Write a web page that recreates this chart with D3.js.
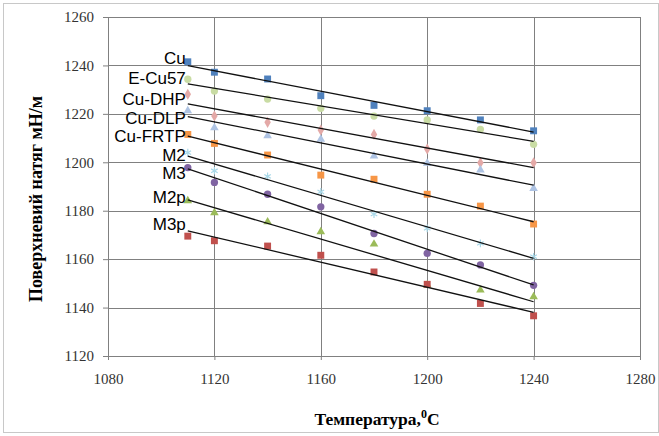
<!DOCTYPE html>
<meta charset="utf-8">
<script src="https://d3js.org/d3.v7.min.js"></script>
<style>
  body { margin: 0; background: #fff; }
</style>
<div id="chart"></div>
<script>
// chart values
var temps = [1110, 1120, 1140, 1160, 1180, 1200, 1220, 1240];
var seriesNames = ["Cu", "E-Cu57", "Cu-DHP", "Cu-DLP", "Cu-FRTP", "M2", "M3", "M2p", "M3p"];
var cu     = [1241.5, 1237.2, 1234.4, 1227.5, 1223.5, 1221.3, 1217.5, 1213.0];
var eCu57  = [1234.3, 1229.4, 1226.1, 1222.3, 1219.1, 1217.5, 1213.6, 1207.4];
var cuDHP  = [1228.1, 1219.1, 1216.5, 1213.3, 1211.5, 1205.5, 1199.8, 1199.8];
var cuDLP  = [1221.3, 1214.3, 1211.0, 1209.5, 1202.6, 1199.6, 1196.8, 1189.2];
var cuFRTP = [1211.5, 1207.8, 1203.0, 1194.7, 1193.0, 1186.8, 1181.9, 1174.5];
var m2     = [1204.0, 1196.5, 1194.2, 1187.8, 1178.6, 1172.7, 1166.5, 1161.0];
var m3     = [1197.8, 1191.7, 1186.8, 1181.6, 1170.6, 1162.4, 1157.6, 1149.2];
var m2p    = [1184.1, 1179.2, 1175.4, 1171.3, 1166.2, 1149.3, 1147.2, 1144.5];
var m3p    = [1169.5, 1167.6, 1165.4, 1161.6, 1154.7, 1149.6, 1141.7, 1136.6];
var xTicks = [1080, 1120, 1160, 1200, 1240, 1280];
var yTicks = [1120, 1140, 1160, 1180, 1200, 1220, 1240, 1260];

var allValues = [cu, eCu57, cuDHP, cuDLP, cuFRTP, m2, m3, m2p, m3p];

// marker styles per series
var markerShape = [d3.symbolSquare, d3.symbolCircle, d3.symbolDiamond, d3.symbolTriangle,
                   d3.symbolSquare, d3.symbolAsterisk, d3.symbolCircle, d3.symbolTriangle, d3.symbolSquare];
var markerSize = [48, 42, 36, 32, 48, 40, 42, 32, 48];
var markerColor = ["#4f81bd", "#c9dca4", "#e4a9a7", "#aec3e3", "#f79646",
                   "#a9d8e8", "#8064a2", "#9bbb59", "#c0504d"];
var labelNudge = [-6, -4, -3, 3, 1, 0, 6, -1, -5];

var W = 659, H = 436;
var margin = {top: 17, right: 19, bottom: 80, left: 108},
    width = W - margin.left - margin.right,
    height = H - margin.top - margin.bottom;

var svg = d3.select("#chart")
  .append("svg")
    .attr("width", W)
    .attr("height", H);

// outer frame
svg.append("rect")
  .attr("x", 3.5).attr("y", 3.5)
  .attr("width", W - 4).attr("height", H - 7)
  .attr("fill", "#fff")
  .attr("stroke", "#c8c8c8");

var g = svg.append("g")
  .attr("transform", "translate(" + margin.left + "," + margin.top + ")");

var x = d3.scaleLinear().domain([1080, 1280]).range([0, width]);
var y = d3.scaleLinear().domain([1120, 1260]).range([height, 0]);

// gridlines
g.append("g")
  .selectAll("line")
  .data(yTicks)
  .enter().append("line")
    .attr("x1", 0).attr("x2", width)
    .attr("y1", d => Math.round(y(d)) + 0.5).attr("y2", d => Math.round(y(d)) + 0.5)
    .attr("stroke", "#808080");
g.append("g")
  .selectAll("line")
  .data(xTicks)
  .enter().append("line")
    .attr("y1", 0).attr("y2", height)
    .attr("x1", d => Math.round(x(d)) + 0.5).attr("x2", d => Math.round(x(d)) + 0.5)
    .attr("stroke", "#808080");

// axes
var yAxis = g.append("g")
  .call(d3.axisLeft(y).tickValues(yTicks).tickSize(5).tickFormat(d3.format("d")));
var xAxis = g.append("g")
  .attr("transform", "translate(0," + height + ")")
  .call(d3.axisBottom(x).tickValues(xTicks).tickSize(4).tickFormat(d3.format("d")));

[xAxis, yAxis].forEach(function(a) {
  a.selectAll(".domain").attr("stroke", "#808080");
  a.selectAll(".tick line").attr("stroke", "#808080");
  a.selectAll(".tick text")
    .attr("fill", "#333")
    .style("font-family", "'Liberation Serif', 'Times New Roman', serif")
    .style("font-size", "15px");
});
yAxis.selectAll(".tick text").attr("x", -14);
xAxis.selectAll(".tick text").attr("y", 17);

// least squares trendline of a series
function trend(vals) {
  var n = temps.length;
  var mx = d3.mean(temps), my = d3.mean(vals);
  var sxy = 0, sxx = 0;
  for (var i = 0; i < n; i++) {
    sxy += (temps[i] - mx) * (vals[i] - my);
    sxx += (temps[i] - mx) * (temps[i] - mx);
  }
  var b = sxy / sxx;
  return function(t) { return my + b * (t - mx); };
}

var t0 = d3.min(temps), t1 = d3.max(temps);

allValues.forEach(function(vals, i) {
  var f = trend(vals);
  var stroked = markerShape[i] === d3.symbolAsterisk;

  // markers
  g.append("g")
    .selectAll("path")
    .data(vals)
    .enter().append("path")
      .attr("transform", (d, j) => "translate(" + x(temps[j]) + "," + y(d) + ")")
      .attr("d", d3.symbol().type(markerShape[i]).size(markerSize[i]))
      .attr("fill", stroked ? "none" : markerColor[i])
      .attr("stroke", stroked ? markerColor[i] : "none")
      .attr("stroke-width", 1.2);

  // trendline
  g.append("line")
    .attr("x1", x(t0)).attr("y1", y(f(t0)))
    .attr("x2", x(t1)).attr("y2", y(f(t1)))
    .attr("stroke", "#111")
    .attr("stroke-width", 1.3);

  // series label
  g.append("text")
    .attr("x", x(t0) - 2)
    .attr("y", y(f(t0)) + labelNudge[i])
    .attr("text-anchor", "end")
    .attr("dominant-baseline", "middle")
    .style("font-family", "'Liberation Sans', Arial, sans-serif")
    .style("font-size", "17px")
    .text(seriesNames[i]);
});

// axis titles
svg.append("text")
  .attr("transform", "translate(38," + 199 + ") rotate(-90)")
  .attr("text-anchor", "middle")
  .attr("dominant-baseline", "middle")
  .style("font-family", "'Liberation Serif', 'Times New Roman', serif")
  .style("font-weight", "bold")
  .style("font-size", "18px")
  .text("Поверхневий натяг мН/м");

var xt = svg.append("text")
  .attr("x", 377)
  .attr("y", 425)
  .attr("text-anchor", "middle")
  .style("font-family", "'Liberation Serif', 'Times New Roman', serif")
  .style("font-weight", "bold")
  .style("font-size", "17.5px");
xt.append("tspan").text("Температура,");
xt.append("tspan").attr("dy", -7).style("font-size", "12px").text("0");
xt.append("tspan").attr("dy", 7).text("C");
</script>
